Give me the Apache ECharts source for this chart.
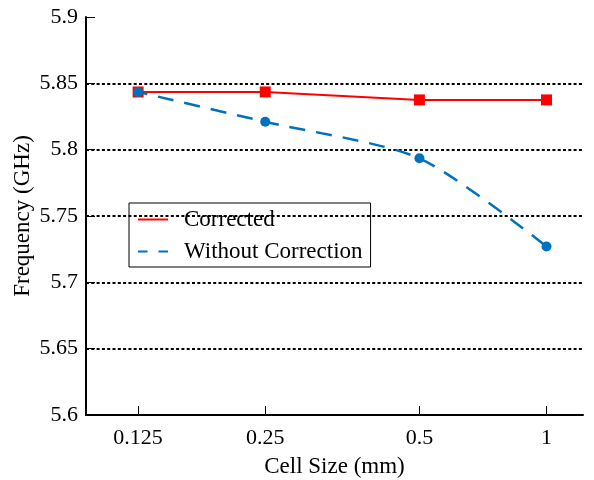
<!DOCTYPE html>
<html>
<head>
<meta charset="utf-8">
<script src="https://cdn.jsdelivr.net/npm/echarts@6/dist/echarts.min.js"></script>
<style>
  html, body { margin: 0; padding: 0; background: #fff; }
  #main { width: 594px; height: 480px; }
</style>
</head>
<body>
<div id="main"></div>
<script>
// cell sizes and where they sit on the (non-uniform) x axis
var cellSizes = ['0.125', '0.25', '0.5', '1'];
var xPos = [1, 2, 3.213, 4.213];
var corrected = [5.8435, 5.8435, 5.8375, 5.8375];
var withoutCorrection = [5.8435, 5.821, 5.7935, 5.727];

var font = 'Liberation Serif, Times New Roman, serif';

function pairs (ys) {
  return xPos.map(function (x, i) { return [x, ys[i]] })
}

var chart = echarts.init(document.getElementById('main'))
chart.setOption({
  animation: false,
  textStyle: { fontFamily: font },
  grid: { left: 86, right: 11, top: 17, bottom: 65, containLabel: false, outerBoundsMode: 'none' },
  legend: {
    orient: 'vertical',
    left: 129,
    top: 203,
    padding: [5, 8, 4, 8],
    itemGap: 9,
    itemWidth: 30,
    itemHeight: 3,
    borderColor: '#000',
    borderWidth: 1,
    itemStyle: { opacity: 0 },
    textStyle: { fontFamily: font, fontSize: 23, color: '#000', padding: [0, 0, 0, 11] },
    data: ['Corrected', 'Without Correction']
  },
  xAxis: {
    type: 'value',
    min: 0.59,
    max: 4.5,
    name: 'Cell Size (mm)',
    nameLocation: 'middle',
    nameGap: 40,
    nameMoveOverlap: false,
    nameTextStyle: { fontFamily: font, fontSize: 23, color: '#000' },
    axisLine: { lineStyle: { color: '#000', width: 2 } },
    axisTick: { inside: true, length: 9, customValues: xPos, lineStyle: { color: '#000', width: 1 } },
    axisLabel: {
      customValues: xPos,
      margin: 12,
      fontFamily: font,
      fontSize: 22,
      color: '#000',
      formatter: function (v) {
        var i = xPos.indexOf(v)
        return i >= 0 ? cellSizes[i] : ''
      }
    },
    splitLine: { show: false }
  },
  yAxis: {
    type: 'value',
    min: 5.6,
    max: 5.9,
    interval: 0.05,
    name: 'Frequency (GHz)',
    nameLocation: 'middle',
    nameGap: 52,
    nameMoveOverlap: false,
    nameTextStyle: { fontFamily: font, fontSize: 23, color: '#000' },
    axisLine: { show: true, lineStyle: { color: '#000', width: 2 } },
    axisTick: { show: true, inside: true, length: 9, lineStyle: { color: '#000', width: 1 } },
    axisLabel: {
      margin: 8,
      fontFamily: font,
      fontSize: 22,
      color: '#000',
      formatter: function (v) { return String(+v.toFixed(2)) }
    },
    splitLine: {
      show: true,
      showMinLine: false,
      showMaxLine: false,
      lineStyle: { color: '#000', width: 2, type: [3, 2.3] }
    }
  },
  series: [
    {
      name: 'Corrected',
      type: 'line',
      data: pairs(corrected),
      symbol: 'rect',
      symbolSize: 11,
      color: '#ff0000',
      itemStyle: { color: '#ff0000' },
      lineStyle: { color: '#ff0000', width: 2 }
    },
    {
      name: 'Without Correction',
      type: 'line',
      data: pairs(withoutCorrection),
      smooth: 0.25,
      symbol: 'circle',
      symbolSize: 10,
      color: '#0072bd',
      itemStyle: { color: '#0072bd' },
      lineStyle: { color: '#0072bd', width: 2.5, type: [16, 11], dashOffset: 6.5 }
    }
  ]
})
</script>
</body>
</html>
